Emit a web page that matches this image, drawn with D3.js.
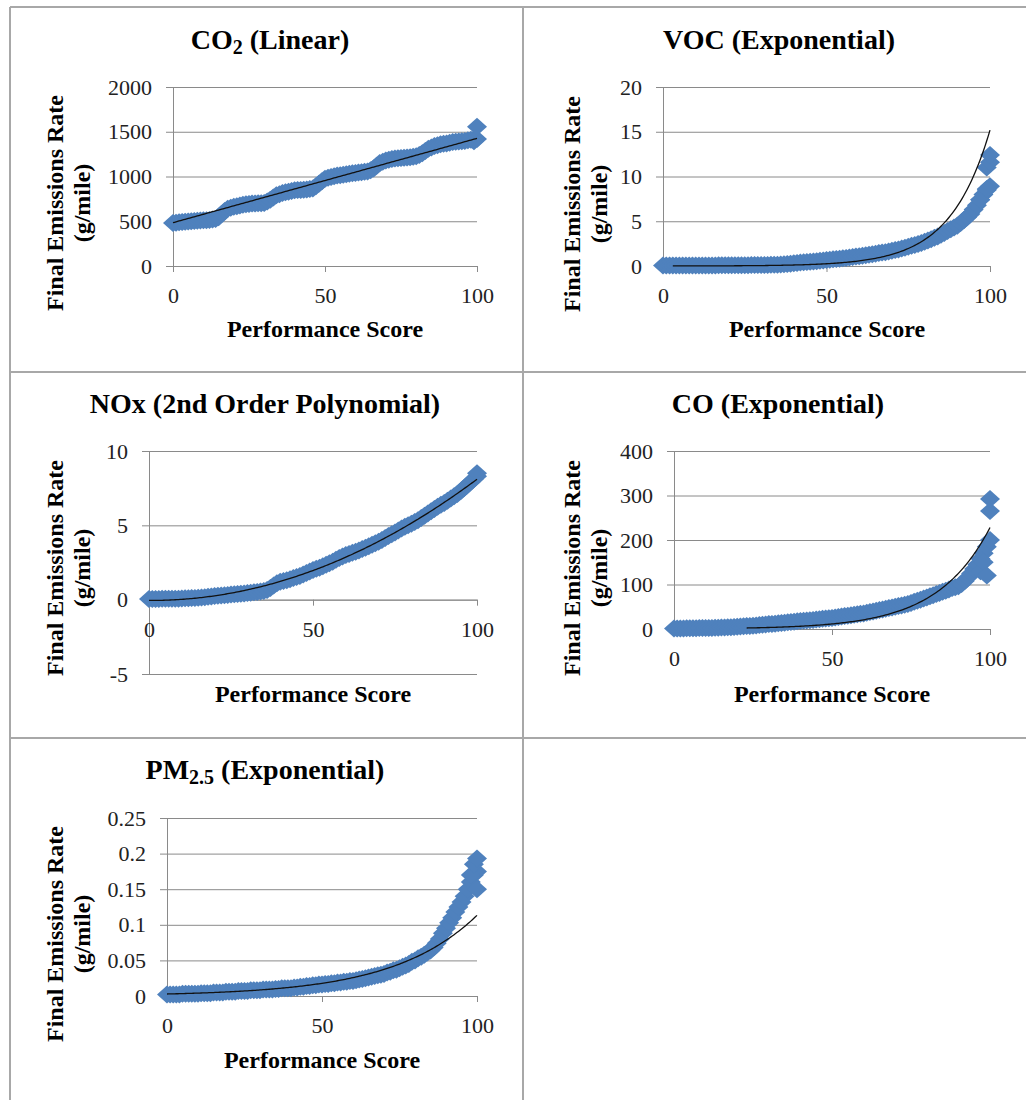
<!DOCTYPE html>
<html>
<head>
<meta charset="utf-8">
<title>Final emissions rate vs performance score</title>
<script src="https://d3js.org/d3.v7.min.js"></script>
<style>
body { margin: 0; background: #fff; }
</style>
</head>
<body>
<div id="chart"></div>
<script>
// performance score (x) shared by every panel
var scores = [0,1,2,3,4,5,6,7,8,9,10,11,12,13,14,15,16,17,18,19,20,21,22,23,24,25,26,27,28,29,
  30,31,32,33,34,35,36,37,38,39,40,41,42,43,44,45,46,47,48,49,50,51,52,53,54,55,56,57,58,59,
  60,61,62,63,64,65,66,67,68,69,70,71,72,73,74,75,76,77,78,79,80,81,82,83,84,85,86,87,88,89,
  90,91,92,93,94,95,96,97,98,99,100];

// final emissions rate (g/mile)
var co2 = [480,484,488,492,495,498,500,503,505,508,510,512,515,520,525,545,580,615,640,652,
  662,668,675,683,690,694,697,699,700,702,705,720,740,765,790,803,815,823,830,838,
  845,848,850,853,855,860,865,890,920,948,975,985,995,1003,1010,1015,1020,1025,1030,1035,
  1040,1044,1048,1052,1055,1070,1090,1120,1150,1165,1180,1188,1195,1200,1205,1208,1210,1213,1215,1220,
  1225,1240,1260,1285,1310,1325,1340,1350,1360,1365,1370,1378,1385,1389,1392,1395,1398,1404,1410,1415,
  1420];
var co2TailX = [99,100], co2TailY = [1395,1555];

var voc = [0.05,0.05,0.05,0.05,0.05,0.05,0.05,0.05,0.05,0.05,0.05,0.06,0.06,0.06,0.06,0.06,0.06,0.07,0.07,0.07,
  0.07,0.08,0.08,0.08,0.08,0.09,0.09,0.1,0.1,0.1,0.1,0.11,0.12,0.13,0.14,0.15,0.17,0.19,0.22,0.26,
  0.3,0.34,0.38,0.41,0.44,0.47,0.5,0.54,0.58,0.62,0.67,0.71,0.75,0.78,0.82,0.86,0.9,0.95,1.0,1.05,
  1.1,1.15,1.2,1.25,1.3,1.38,1.45,1.5,1.55,1.62,1.7,1.78,1.85,1.95,2.05,2.15,2.25,2.35,2.45,2.58,
  2.7,2.85,3.0,3.15,3.3,3.5,3.7,3.9,4.1,4.3,4.5,4.8,5.1,5.45,5.8,6.3,6.8,7.4,8.0,8.5,
  8.9];
var vocTailX = [97,99,99,100,100], vocTailY = [7.4,8.6,11.0,11.6,12.4];

var nox = [0.05,0.05,0.05,0.05,0.06,0.06,0.06,0.06,0.07,0.07,0.08,0.09,0.1,0.11,0.12,0.13,0.15,0.17,0.2,0.22,
  0.25,0.26,0.28,0.3,0.32,0.34,0.36,0.38,0.4,0.42,0.45,0.47,0.5,0.52,0.55,0.58,0.65,0.78,0.95,1.1,
  1.2,1.25,1.3,1.38,1.45,1.52,1.6,1.7,1.8,1.9,2.0,2.08,2.15,2.25,2.35,2.45,2.55,2.68,2.8,2.9,
  3.0,3.08,3.15,3.22,3.3,3.4,3.5,3.6,3.7,3.8,3.9,4.02,4.15,4.28,4.4,4.52,4.65,4.78,4.9,5.0,
  5.1,5.22,5.35,5.5,5.65,5.8,5.95,6.1,6.25,6.38,6.5,6.65,6.8,6.95,7.1,7.3,7.5,7.7,7.9,8.1,
  8.3];
var noxTailX = [100], noxTailY = [8.5];

var co = [1,1,1,1,1.5,1.5,1.5,1.5,2,2,2,2,2.5,2.8,3,3.2,3.5,3.8,4,4.5,
  5,5.5,6,6.5,7,7.5,8,8.8,9.5,10.2,11,11.5,12,12.8,13.5,14.2,15,15.8,16.5,17.2,
  18,18.5,19,19.8,20.5,21.2,22,22.8,23.5,24.2,25,26,27,28,29,30,31,32,33,34,
  35,36.5,38,39.5,41,42.5,44,45.5,47,48.5,50,51.5,53,54.5,56,58.5,61,63.5,66,68.5,
  71,73.5,76,78.5,81,83.5,86,89,92,94,96,101,108,116,125,135,145,158,170,185,
  200];
var coTailX = [97,98,99,100,100], coTailY = [130,150,120,265,292];

var pm = [0.002,0.002,0.002,0.002,0.002,0.003,0.003,0.003,0.003,0.003,0.003,0.004,0.004,0.004,0.004,0.005,0.005,0.005,0.005,0.006,
  0.006,0.006,0.006,0.007,0.007,0.007,0.007,0.008,0.008,0.008,0.008,0.009,0.009,0.009,0.009,0.01,0.01,0.011,0.011,0.011,
  0.011,0.012,0.012,0.013,0.013,0.014,0.014,0.015,0.015,0.016,0.016,0.017,0.017,0.018,0.018,0.019,0.019,0.02,0.02,0.021,
  0.021,0.022,0.023,0.024,0.025,0.026,0.027,0.028,0.029,0.03,0.031,0.033,0.034,0.036,0.037,0.039,0.041,0.043,0.045,0.048,
  0.05,0.053,0.055,0.058,0.061,0.064,0.068,0.074,0.08,0.088,0.095,0.103,0.11,0.118,0.125,0.132,0.14,0.15,0.16,0.17,
  0.175];
var pmTailX = [98,99,100,100], pmTailY = [0.17,0.185,0.193,0.15];

// axis ticks
var xTicks = [0,50,100];
var co2Ticks = [0,500,1000,1500,2000];
var vocTicks = [0,5,10,15,20];
var noxTicks = [-5,0,5,10];
var coTicks = [0,100,200,300,400];
var pmTicks = [0,0.05,0.1,0.15,0.2,0.25];

// trendline fits shown on the chart
var co2Fit = {kind: "lin", a: 484, b: 9.42, from: 0};
var vocFit = {kind: "exp", a: 0.00417, b: 0.082, from: 3};
var noxFit = {kind: "poly", c0: -0.05, c1: -0.0011, c2: 0.000826, from: 0};
var coFit = {kind: "exp", a: 0.565, b: 0.06, from: 23};
var pmFit = {kind: "exp", a: 0.0028, b: 0.037, from: 0};

function fitValue(f, x) {
  if (f.kind == "lin") return f.a + f.b * x;
  if (f.kind == "exp") return f.a * Math.exp(f.b * x);
  return f.c0 + f.c1 * x + f.c2 * x * x;
}

var serif = "'Liberation Serif', 'Times New Roman', Tinos, 'DejaVu Serif', serif";
var W = 1026, H = 1100;
var svg = d3.select("#chart").append("svg").attr("width", W).attr("height", H)
  .style("font-family", serif);
svg.append("rect").attr("width", W).attr("height", H).attr("fill", "#fff");

// table cell borders
var border = svg.append("g").attr("stroke", "#a8a8a8").attr("stroke-width", 2);
[[10,7,1026,7],[10,372,1026,372],[10,738,1026,738],[10,7,10,1100],[523,7,523,1100]]
  .forEach(function(l) {
    border.append("line").attr("x1", l[0]).attr("y1", l[1]).attr("x2", l[2]).attr("y2", l[3]);
  });

var panels = [
  {title: [["CO",0],["2",1],[" (Linear)",0]], tx: 270, ty: 49,
   left: 173, right: 477, top: 87, bottom: 266, ticks: co2Ticks,
   ys: co2, tailX: co2TailX, tailY: co2TailY, fit: co2Fit,
   xlx: 325, xly: 337, ylx: 63, yly: 203},
  {title: [["VOC (Exponential)",0]], tx: 779, ty: 49,
   left: 663, right: 990, top: 87, bottom: 266, ticks: vocTicks,
   ys: voc, tailX: vocTailX, tailY: vocTailY, fit: vocFit,
   xlx: 827, xly: 337, ylx: 580, yly: 204},
  {title: [["NOx (2nd Order Polynomial)",0]], tx: 265, ty: 413,
   left: 149, right: 477, top: 451, bottom: 674, ticks: noxTicks,
   ys: nox, tailX: noxTailX, tailY: noxTailY, fit: noxFit,
   xlx: 313, xly: 702, ylx: 63, yly: 568},
  {title: [["CO (Exponential)",0]], tx: 778, ty: 413,
   left: 674, right: 990, top: 451, bottom: 629, ticks: coTicks,
   ys: co, tailX: coTailX, tailY: coTailY, fit: coFit,
   xlx: 832, xly: 702, ylx: 580, yly: 568},
  {title: [["PM",0],["2.5",1],[" (Exponential)",0]], tx: 265, ty: 779,
   left: 167, right: 477, top: 818, bottom: 996, ticks: pmTicks,
   ys: pm, tailX: pmTailX, tailY: pmTailY, fit: pmFit,
   xlx: 322, xly: 1068, ylx: 63, yly: 934}
];

var gridColor = "#8a8a8a";
var diamond = "M0,-9L10,0L0,9L-10,0Z";

function styleAxis(a) {
  a.attr("font-family", serif).attr("font-size", 22);
  a.select(".domain").attr("stroke", gridColor);
  a.selectAll(".tick line").attr("stroke", gridColor);
  a.selectAll(".tick text").attr("fill", "#222").style("font-family", serif).style("font-size", "22px");
}

panels.forEach(function(p) {
  var x = d3.scaleLinear().domain([0, 100]).range([p.left, p.right]);
  var y = d3.scaleLinear().domain(d3.extent(p.ticks)).range([p.bottom, p.top]);
  var g = svg.append("g");

  // title
  var t = g.append("text").attr("x", p.tx).attr("y", p.ty)
    .attr("text-anchor", "middle").style("white-space", "pre")
    .style("font-family", serif).style("font-size", "28px").style("font-weight", "bold");
  p.title.forEach(function(s, i) {
    var sp = t.append("tspan").text(s[0]);
    if (s[1]) sp.style("font-size", "20px").attr("dy", 5);
    else if (i > 0) sp.attr("dy", -5);
  });

  // gridlines
  g.append("g").attr("transform", "translate(" + p.left + ",0)")
    .call(d3.axisLeft(y).tickValues(p.ticks).tickSize(-(p.right - p.left)).tickFormat(""))
    .call(function(a) {
      a.select(".domain").remove();
      a.selectAll("line").attr("stroke", gridColor);
    });

  // y axis
  g.append("g").attr("transform", "translate(" + p.left + ",0)")
    .call(d3.axisLeft(y).tickValues(p.ticks).tickSize(7).tickSizeOuter(0).tickPadding(14)
      .tickFormat(function(v) { return String(v); }))
    .call(styleAxis);

  // x axis at y = 0
  var xa = g.append("g").attr("transform", "translate(0," + y(0) + ")")
    .call(d3.axisBottom(x).tickValues(xTicks).tickSize(6).tickSizeOuter(0)
      .tickFormat(function(v) { return String(v); }))
    .call(styleAxis);
  xa.selectAll("text").attr("y", 37).attr("dy", 0);

  // points
  var pts = scores.map(function(s, i) { return [s, p.ys[i]]; })
    .concat(p.tailX.map(function(s, i) { return [s, p.tailY[i]]; }));
  g.append("g").selectAll("path").data(pts).join("path")
    .attr("d", diamond)
    .attr("transform", function(d) { return "translate(" + x(d[0]) + "," + y(d[1]) + ")"; })
    .attr("fill", "#4f81bd");

  // trendline
  var xs = d3.range(p.fit.from, 100.001, 0.5);
  g.append("path").datum(xs)
    .attr("d", d3.line().x(function(v) { return x(v); }).y(function(v) { return y(fitValue(p.fit, v)); }))
    .attr("fill", "none").attr("stroke", "#111").attr("stroke-width", 1.3);

  // axis titles
  g.append("text").attr("x", p.xlx).attr("y", p.xly).attr("text-anchor", "middle")
    .style("font-family", serif).style("font-size", "24px").style("font-weight", "bold")
    .text("Performance Score");
  var yl = g.append("text").attr("text-anchor", "middle")
    .style("font-family", serif).style("font-size", "24px").style("font-weight", "bold")
    .attr("transform", "translate(" + p.ylx + "," + p.yly + ") rotate(-90)");
  yl.append("tspan").attr("x", 0).attr("y", 0).text("Final Emissions Rate");
  yl.append("tspan").attr("x", 0).attr("y", 27).text("(g/mile)");
});
</script>
</body>
</html>
